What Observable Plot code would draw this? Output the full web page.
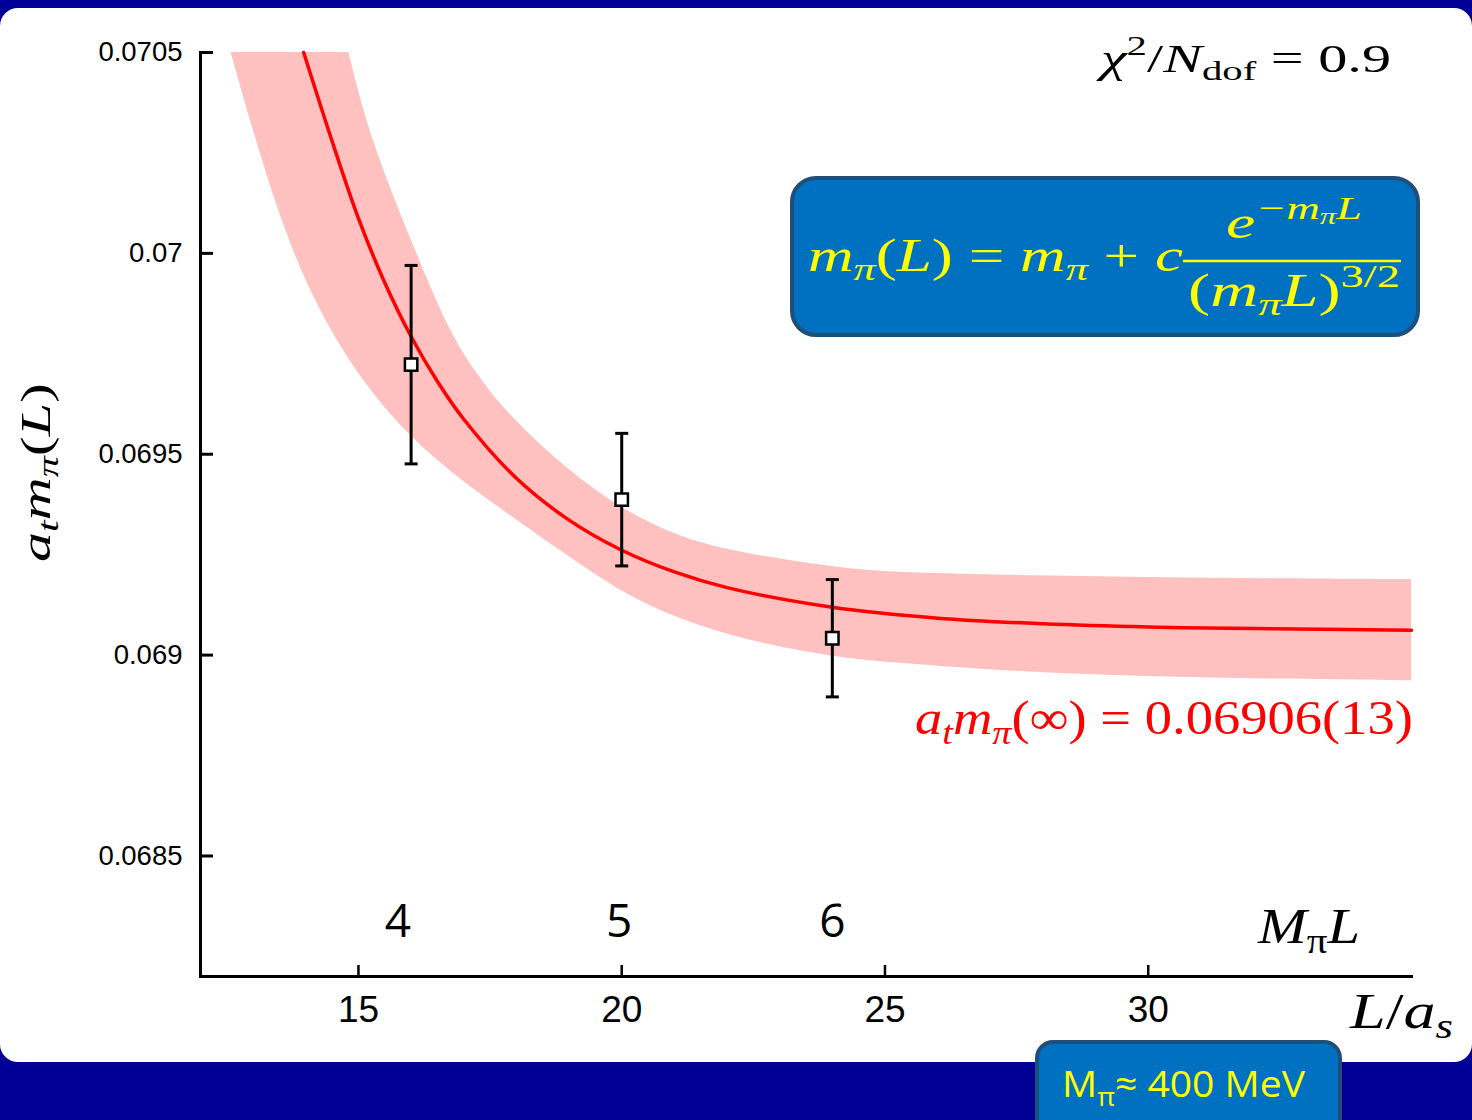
<!DOCTYPE html>
<html>
<head>
<meta charset="utf-8">
<script src="https://cdn.jsdelivr.net/npm/d3@7"></script>
<script src="https://cdn.jsdelivr.net/npm/@observablehq/plot@0.6"></script>
<style>
  html, body { margin: 0; padding: 0; }
  body { width: 1472px; height: 1120px; background: #000096; position: relative; overflow: hidden; }
  #panel { position: absolute; left: 0; top: 8px; width: 1472px; height: 1054px; background: #fff; border-radius: 18px; }
  #chart { position: absolute; left: 0; top: 0; }
</style>
</head>
<body>
<div id="panel"></div>
<div id="chart"></div>
<script>
// Lattice volumes L/a_s and measured pion masses a_t m_pi(L) with errors
const volumes = [16, 20, 24];
const pionMass = [0.069723, 0.069387, 0.069042];
const pionMassErr = [0.000247, 0.000165, 0.000146];

// Fit result for the infinite-volume mass and its uncertainty
const massInf = 0.06906;
const massInfErr = 0.00013;

// Central fit curve m_pi(L) = m_pi + c e^{-m_pi L} / (m_pi L)^{3/2}
const fitL    = [13.96, 14.5, 15, 15.5, 16, 16.5, 17, 18, 19, 20, 21, 22, 24, 26, 28, 30, 32, 35];
const fitMass = [0.0705, 0.070279, 0.070087, 0.069927, 0.069793, 0.069681, 0.069587, 0.069440, 0.069336, 0.069261,
                 0.069207, 0.069168, 0.069119, 0.069092, 0.069078, 0.069070, 0.069066, 0.069062];

// One-sigma error band: lower and upper edges
const bandLowerL    = [12.58, 13.055, 13.650, 14.506, 15.913, 17.78, 18.954, 20.215, 21.483, 22.751, 24.017, 24.905, 27.439, 29.975, 32.510, 35.0];
const bandLowerMass = [0.0705, 0.070281, 0.070032, 0.069784, 0.069535, 0.069356, 0.069249, 0.069137, 0.069070, 0.069025, 0.068996, 0.068983, 0.068958, 0.068946, 0.068940, 0.068936];
const bandUpperL    = [14.816, 15.241, 16.002, 16.787, 17.363, 17.681, 18.949, 20.215, 21.483, 22.751, 24.017, 24.905, 27.433, 29.981, 32.510, 35.0];
const bandUpperMass = [0.0705, 0.070281, 0.070032, 0.069784, 0.069682, 0.069622, 0.069460, 0.069344, 0.069274, 0.069244, 0.069219, 0.069206, 0.069198, 0.069193, 0.069190, 0.069188];

// Axis domains and ticks
const xDomain = [12, 35];
const yDomain = [0.0682, 0.0705];
const xTicks = [15, 20, 25, 30];
const yTicks = [0.0685, 0.069, 0.0695, 0.07, 0.0705];

// Secondary scale M_pi L marked inside the plot
const mpiLLabels = ["4", "5", "6"];
const mpiLPos = [15.75, 19.95, 24.0];

const points = volumes.map((L, i) => ({L, m: pionMass[i], lo: pionMass[i] - pionMassErr[i], hi: pionMass[i] + pionMassErr[i]}));
const fit = fitL.map((L, i) => ({L, m: fitMass[i]}));
const band = bandLowerL.map((L, i) => ({lL: L, lM: bandLowerMass[i], uL: bandUpperL[i], uM: bandUpperMass[i]}));
const caps = points.flatMap(d => [{L: d.L, m: d.lo}, {L: d.L, m: d.hi}]);
const mpiL = mpiLLabels.map((t, i) => ({t, L: mpiLPos[i]}));

// horizontal bar used as the error-bar cap
const capSymbol = {draw(ctx, size) { const w = Math.sqrt(size / Math.PI); ctx.moveTo(-w, 0); ctx.lineTo(w, 0); }};

const W = 1472, H = 1120, mL = 200, mR = 61, mT = 52, mB = 144;
const frameW = W - mL - mR, frameH = H - mT - mB;
// inward tick length of the mass axis (13px) expressed along x
const yTickReach = xDomain[0] + 13 * (xDomain[1] - xDomain[0]) / frameW;

const chart = Plot.plot({
  width: W,
  height: H,
  marginLeft: mL,
  marginRight: mR,
  marginTop: mT,
  marginBottom: mB,
  style: {background: "transparent", color: "#000", fontFamily: "'Liberation Sans', Arial, sans-serif", overflow: "visible"},
  x: {domain: xDomain},
  y: {domain: yDomain},
  marks: [
    Plot.area(band, {x1: "lL", y1: "lM", x2: "uL", y2: "uM", fill: "#ffc0c0", curve: "basis"}),
    Plot.line(fit, {x: "L", y: "m", stroke: "#ff0000", strokeWidth: 3.5, curve: "catmull-rom"}),
    Plot.ruleX(points, {x: "L", y1: "lo", y2: "hi", stroke: "#000", strokeWidth: 3}),
    Plot.dot(caps, {x: "L", y: "m", symbol: capSymbol, r: 6.5, stroke: "#000", strokeWidth: 3, fill: "none"}),
    Plot.dot(points, {x: "L", y: "m", symbol: "square", r: 7, fill: "#fff", stroke: "#000", strokeWidth: 2.5}),
    Plot.frame({anchor: "left", stroke: "#000", strokeWidth: 3}),
    Plot.frame({anchor: "bottom", stroke: "#000", strokeWidth: 3}),
    // inward tick marks on both axes
    Plot.ruleY(yTicks, {y: d => d, x1: xDomain[0], x2: yTickReach, stroke: "#000", strokeWidth: 3}),
    Plot.tickX(xTicks, {x: d => d, insetTop: frameH - 11, stroke: "#000", strokeWidth: 2.5}),
    Plot.axisY({ticks: yTicks, tickSize: 0, tickPadding: 18, tickFormat: d => String(d), fontSize: 27.5, label: null}),
    Plot.axisX({ticks: xTicks, tickSize: 0, tickPadding: 19, fontSize: 37, label: null}),
    Plot.text(mpiL, {x: "L", text: "t", frameAnchor: "bottom", dy: -54, lineAnchor: "middle", fontSize: 46, fontFamily: "'Open Sans', sans-serif", fill: "#000"})
  ]
});
document.getElementById("chart").appendChild(chart);

// Rich math labels with sub- and superscripts
const serif = "'Liberation Serif', 'DejaVu Serif', serif";
function mathText(parent, {x = 0, y = 0, size, family = serif, fill = "#000", parts, length, adjust = "spacingAndGlyphs", anchor = "start", transform}) {
  const t = parent.append("text")
    .attr("x", x).attr("y", y)
    .attr("font-family", family).attr("font-size", size)
    .attr("fill", fill).attr("text-anchor", anchor)
    .style("white-space", "pre");
  if (transform) t.attr("transform", transform);
  let level = 0;
  for (const [s, style = "r", scale = 1, raise = 0] of parts) {
    const shift = raise * size;
    t.append("tspan")
      .attr("dy", -(shift - level))
      .attr("font-size", size * scale)
      .attr("font-style", style === "i" ? "italic" : "normal")
      .text(s);
    level = shift;
  }
  if (length) t.attr("textLength", length).attr("lengthAdjust", adjust);
  return t;
}

const svg = d3.select(chart);
const ann = svg.append("g");

// axis titles
mathText(ann, {size: 42, transform: "translate(50,562) rotate(-90)", length: 179,
  parts: [["a", "i"], ["t", "i", 0.7, -0.2], ["m", "i"], ["π", "i", 0.7, -0.2], ["(", "r"], ["L", "i"], [")", "r"]]});
mathText(ann, {x: 1350, y: 1028, size: 50, length: 103,
  parts: [["L", "i"], ["/", "r"], ["a", "i"], ["s", "i", 0.7, -0.2]]});
mathText(ann, {x: 1258, y: 943, size: 50, length: 102,
  parts: [["M", "i"], ["π", "r", 0.7, -0.2], ["L", "i"]]});

// goodness of fit
mathText(ann, {x: 1101, y: 72, size: 40, length: 290,
  parts: [["χ", "i"], ["2", "r", 0.7, 0.42], ["/", "r"], ["N", "i"], ["dof", "r", 0.7, -0.2], [" = 0.9", "r"]]});

// infinite-volume result
mathText(ann, {x: 915, y: 734, size: 48, fill: "#ff0000", length: 498,
  parts: [["a", "i"], ["t", "i", 0.7, -0.2], ["m", "i"], ["π", "i", 0.7, -0.2],
          [`(∞) = ${massInf.toFixed(5)}(${Math.round(massInfErr * 1e5)})`, "r"]]});

// fit formula box
const yellow = "#ffff00";
ann.append("rect").attr("x", 792).attr("y", 178).attr("width", 626).attr("height", 157).attr("rx", 24)
  .attr("fill", "#0070c0").attr("stroke", "#1f4e79").attr("stroke-width", 4);
mathText(ann, {x: 808, y: 271, size: 46, fill: yellow, length: 375,
  parts: [["m", "i"], ["π", "i", 0.7, -0.2], ["(", "r"], ["L", "i"], [")", "r"], [" = ", "r"],
          ["m", "i"], ["π", "i", 0.7, -0.2], [" + ", "r"], ["c", "i"]]});
mathText(ann, {x: 1226, y: 238, size: 46, fill: yellow, length: 136,
  parts: [["e", "i"], ["−m", "i", 0.7, 0.42], ["π", "i", 0.5, 0.3], ["L", "i", 0.7, 0.42]]});
ann.append("line").attr("x1", 1183).attr("x2", 1401).attr("y1", 261).attr("y2", 261)
  .attr("stroke", yellow).attr("stroke-width", 2.5);
mathText(ann, {x: 1188, y: 306, size: 46, fill: yellow, length: 212,
  parts: [["(", "r"], ["m", "i"], ["π", "i", 0.7, -0.2], ["L", "i"], [")", "r"], ["3/2", "r", 0.7, 0.42]]});

// pion mass tag at the bottom
ann.append("rect").attr("x", 1037).attr("y", 1042).attr("width", 303).attr("height", 100).attr("rx", 16)
  .attr("fill", "#0070c0").attr("stroke", "#1f4e79").attr("stroke-width", 4);
mathText(ann, {x: 1062, y: 1097, size: 37, family: "'Open Sans', sans-serif", fill: yellow, length: 243,
  parts: [["M", "r"], ["π", "r", 0.7, -0.25], ["≈ 400 MeV", "r"]]});
</script>
</body>
</html>
